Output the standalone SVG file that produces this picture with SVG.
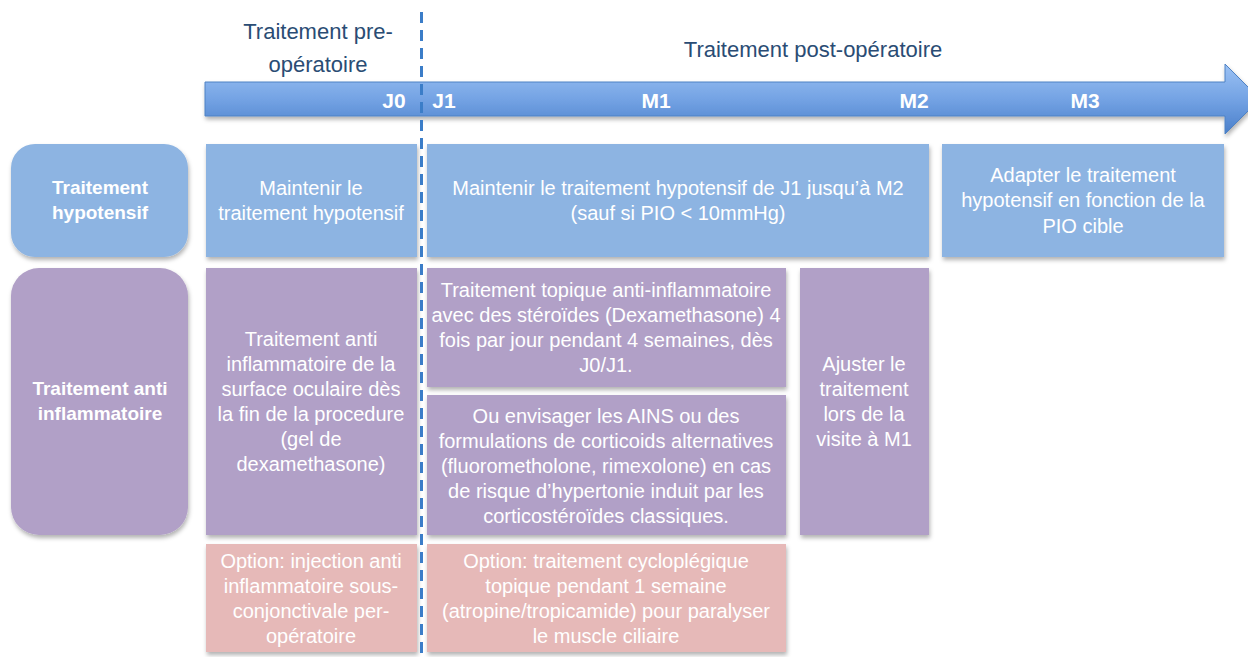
<svg xmlns="http://www.w3.org/2000/svg" width="1248" height="657" viewBox="0 0 1248 657">
<defs>
<linearGradient id="arrowGrad" x1="0" y1="0" x2="0" y2="1">
<stop offset="0" stop-color="#9cc2f4"/>
<stop offset="0.5" stop-color="#74a3e4"/>
<stop offset="1" stop-color="#4a7fca"/>
</linearGradient>
<filter id="sh" x="-10%" y="-10%" width="120%" height="130%">
<feDropShadow dx="1" dy="3" stdDeviation="2" flood-color="#000" flood-opacity="0.3"/>
</filter>
<style>
.t{font-family:"Liberation Sans",Arial,sans-serif;font-size:20px;fill:#ffffff;text-anchor:middle}
.lb{font-family:"Liberation Sans",Arial,sans-serif;font-size:19px;font-weight:bold;fill:#ffffff;text-anchor:middle}
.tl{font-family:"Liberation Sans",Arial,sans-serif;font-size:21px;font-weight:bold;fill:#ffffff;text-anchor:middle}
.hd{font-family:"Liberation Sans",Arial,sans-serif;font-size:22px;fill:#2a4c74;text-anchor:middle}
.blue{fill:#8db4e2;filter:url(#sh)}
.purple{fill:#b1a0c7;filter:url(#sh)}
.pink{fill:#e6b9b8;filter:url(#sh)}
</style>
</defs>
<rect width="1248" height="657" fill="#ffffff"/>

<g id="headers">
<text class="hd" x="318" y="39">Traitement pre-</text>
<text class="hd" x="318" y="72">opératoire</text>
<text class="hd" x="813" y="57">Traitement post-opératoire</text>
</g>

<g id="timeline">
<path d="M205,82 H1225 V64 L1260,99 L1225,134 V116 H205 Z" fill="url(#arrowGrad)" stroke="#4f82c4" stroke-width="1" filter="url(#sh)"/>
<text class="tl" x="394" y="108">J0</text>
<text class="tl" x="444" y="108">J1</text>
<text class="tl" x="656" y="108">M1</text>
<text class="tl" x="914" y="108">M2</text>
<text class="tl" x="1085" y="108">M3</text>
</g>

<g id="label-hypotensif">
<rect class="blue" x="11" y="144" width="177" height="113" rx="24"/>
<text class="lb" x="100" y="194">Traitement</text>
<text class="lb" x="100" y="219">hypotensif</text>
</g>

<g id="label-anti-inflammatoire">
<rect class="purple" x="11" y="268" width="177" height="267" rx="28"/>
<text class="lb" x="100" y="395">Traitement anti</text>
<text class="lb" x="100" y="420">inflammatoire</text>
</g>

<g id="hypo-pre">
<rect class="blue" x="206" y="144" width="211" height="113"/>
<text class="t" x="311" y="195">Maintenir le</text>
<text class="t" x="311" y="220">traitement hypotensif</text>
</g>

<g id="hypo-post">
<rect class="blue" x="427" y="144" width="502" height="113"/>
<text class="t" x="678" y="195">Maintenir le traitement hypotensif de J1 jusqu’à M2</text>
<text class="t" x="678" y="220">(sauf si PIO &lt; 10mmHg)</text>
</g>

<g id="hypo-m3">
<rect class="blue" x="942" y="144" width="282" height="113"/>
<text class="t" x="1083" y="182">Adapter le traitement</text>
<text class="t" x="1083" y="207">hypotensif en fonction de la</text>
<text class="t" x="1083" y="233">PIO cible</text>
</g>

<g id="anti-pre">
<rect class="purple" x="206" y="268" width="211" height="267"/>
<text class="t" x="311" y="346">Traitement anti</text>
<text class="t" x="311" y="371">inflammatoire de la</text>
<text class="t" x="311" y="396">surface oculaire dès</text>
<text class="t" x="311" y="421">la fin de la procedure</text>
<text class="t" x="311" y="446">(gel de</text>
<text class="t" x="311" y="471">dexamethasone)</text>
</g>

<g id="anti-topique">
<rect class="purple" x="427" y="268" width="359" height="119"/>
<text class="t" x="606" y="297">Traitement topique anti-inflammatoire</text>
<text class="t" x="606" y="322">avec des stéroïdes (Dexamethasone) 4</text>
<text class="t" x="606" y="347">fois par jour pendant 4 semaines, dès</text>
<text class="t" x="606" y="372">J0/J1.</text>
</g>

<g id="anti-ains">
<rect class="purple" x="427" y="395" width="359" height="140"/>
<text class="t" x="606" y="423">Ou envisager les AINS ou des</text>
<text class="t" x="606" y="448">formulations de corticoids alternatives</text>
<text class="t" x="606" y="473">(fluorometholone, rimexolone) en cas</text>
<text class="t" x="606" y="498">de risque d’hypertonie induit par les</text>
<text class="t" x="606" y="523">corticostéroïdes classiques.</text>
</g>

<g id="anti-m1">
<rect class="purple" x="800" y="268" width="129" height="267"/>
<text class="t" x="864" y="371">Ajuster le</text>
<text class="t" x="864" y="396">traitement</text>
<text class="t" x="864" y="421">lors de la</text>
<text class="t" x="864" y="446">visite à M1</text>
</g>

<g id="option-pre">
<rect class="pink" x="206" y="544" width="211" height="108"/>
<text class="t" x="311" y="568">Option: injection anti</text>
<text class="t" x="311" y="593">inflammatoire sous-</text>
<text class="t" x="311" y="618">conjonctivale per-</text>
<text class="t" x="311" y="643">opératoire</text>
</g>

<g id="option-post">
<rect class="pink" x="427" y="544" width="359" height="108"/>
<text class="t" x="606" y="568">Option: traitement cycloplégique</text>
<text class="t" x="606" y="593">topique pendant 1 semaine</text>
<text class="t" x="606" y="618">(atropine/tropicamide) pour paralyser</text>
<text class="t" x="606" y="643">le muscle ciliaire</text>
</g>

<g id="connectors">
<line x1="421.5" y1="12" x2="421.5" y2="657" stroke="#3b7dc8" stroke-width="3" stroke-dasharray="11 7"/>
</g>
</svg>
